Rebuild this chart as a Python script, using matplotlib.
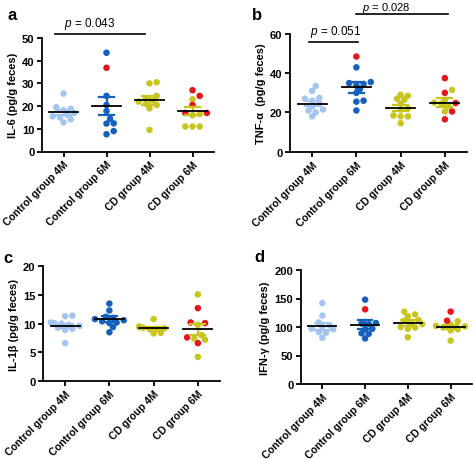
import numpy as np
import matplotlib
matplotlib.use('Agg')
import matplotlib.pyplot as plt

plt.rcParams['font.family'] = ['Liberation Sans', 'DejaVu Sans']
plt.rcParams['mathtext.fontset'] = 'custom'
plt.rcParams['mathtext.it'] = 'Liberation Sans:italic'
plt.rcParams['mathtext.rm'] = 'Liberation Sans'

groups = ['Control group 4M', 'Control group 6M', 'CD group 4M', 'CD group 6M']
group_colors = ['#a3c5ef', '#1560bd', '#c8c61e', '#c8c61e']
red = '#e8141c'

# IL-6
il6_vals = [[25.5, 19.5, 18.8, 18.2, 17.0, 16.2, 15.5, 15.0, 14.2, 12.8],
            [43.5, 24.5, 20.5, 17.8, 14.4, 12.4, 12.3, 9.0, 7.6],
            [30.5, 30.0, 24.5, 23.5, 22.5, 22.0, 21.0, 20.5, 19.0, 9.5],
            [23.0, 16.5, 16.0, 11.0, 11.0, 11.0]]
il6_red = [[], [36.9], [], [27.0, 24.5, 20.5, 17.0, 17.0]]
il6_mean = [17.2, 20.1, 22.6, 17.9]
il6_sem = [1.2, 3.9, 1.9, 1.8]

# TNF-a
tnf_vals = [[33.5, 31.0, 27.5, 27.0, 26.0, 24.5, 23.0, 21.5, 21.0, 20.0, 18.0],
            [43.0, 35.5, 35.0, 34.5, 34.0, 32.0, 30.0, 26.0, 25.5, 21.0],
            [29.0, 28.5, 27.0, 26.5, 24.5, 22.0, 21.5, 18.5, 18.0, 18.0, 14.5],
            [31.5, 26.5, 25.0, 24.5, 23.0, 20.5]]
tnf_red = [[], [48.5], [], [37.5, 30.0, 24.8, 20.5, 16.5]]
tnf_mean = [24.5, 32.9, 22.3, 25.0]
tnf_sem = [1.4, 2.8, 1.6, 2.2]

# IL-1b
il1b_vals = [[11.4, 11.3, 10.2, 10.1, 10.0, 9.8, 9.6, 9.3, 9.1, 8.9, 6.6],
             [13.5, 12.3, 11.2, 11.0, 10.8, 10.6, 10.4, 10.2, 10.1, 9.4, 8.5],
             [10.8, 9.5, 9.4, 9.3, 9.2, 9.1, 9.0, 8.4, 8.3],
             [15.1, 9.8, 8.0, 7.4, 7.2, 4.2]]
il1b_red = [[], [], [], [12.7, 10.2, 10.1, 7.6, 6.6]]
il1b_mean = [9.6, 10.8, 9.25, 9.0]
il1b_sem = [0.4, 0.45, 0.25, 1.0]

# IFN-g
ifn_vals = [[142, 120, 108, 103, 100, 97, 96, 91, 90, 81],
            [148, 107, 106, 105, 97, 96, 89, 88, 80],
            [127, 122, 119, 112, 111, 106, 105, 100, 99, 97, 82],
            [110, 104, 102, 101, 99, 96, 94, 76]]
ifn_red = [[], [131], [], [127, 111]]
ifn_mean = [101.5, 104.0, 107.0, 100.0]
ifn_sem = [6.0, 7.5, 4.5, 4.0]

W, H = 473, 460


def swarm(vals, px_per_unit, dot=5.2, step=3.6, px_per_cat=44.0):
    vals = np.asarray(vals, dtype=float)
    xs = np.zeros(len(vals))
    placed = []
    for i in np.argsort(vals):
        y = vals[i] * px_per_unit
        for k in [0, 1, -1, 2, -2, 3, -3, 4, -4]:
            x = k * step
            if all((x - px) ** 2 + (y - py) ** 2 >= dot ** 2 for px, py in placed):
                break
        placed.append((x, y))
        xs[i] = x / px_per_cat
    return xs


def panel(rect, vals, reds, means, sems, ymax, yticks, ylabel):
    left, right, bottom, top = rect
    ax = fig.add_axes([left / W, 1 - bottom / H, (right - left) / W, (bottom - top) / H])
    ppu = (bottom - top) / ymax
    ppc = (right - left) / 4.0
    for i in range(4):
        allv = list(vals[i]) + list(reds[i])
        cols = [group_colors[i]] * len(vals[i]) + [red] * len(reds[i])
        offs = swarm(allv, ppu, px_per_cat=ppc)
        ax.scatter(i + offs, allv, s=22, c=cols, linewidths=0, zorder=2)
        ax.plot([i, i], [means[i] - sems[i], means[i] + sems[i]], color=group_colors[i], lw=1.6, zorder=3)
        for e in (means[i] - sems[i], means[i] + sems[i]):
            ax.plot([i - 0.17, i + 0.17], [e, e], color=group_colors[i], lw=1.6, zorder=3)
        ax.plot([i - 0.33, i + 0.33], [means[i], means[i]], color='black', lw=1.3, zorder=4)
    ax.set_xlim(-0.5, 3.5)
    ax.set_ylim(0, ymax)
    ax.set_yticks(yticks)
    ax.set_xticks(range(4))
    ax.set_xticklabels(groups, rotation=45, ha='right', rotation_mode='anchor', fontweight='bold', fontsize=7.5)
    for lab in ax.get_yticklabels():
        lab.set_fontweight('bold')
        lab.set_fontsize(8)
    ax.spines['top'].set_visible(False)
    ax.spines['right'].set_visible(False)
    ax.spines['left'].set_linewidth(1.3)
    ax.spines['bottom'].set_linewidth(1.3)
    ax.tick_params(width=1.3, length=3.5, pad=2)
    ax.set_ylabel(ylabel, fontweight='bold', fontsize=8, labelpad=3)
    return ax


fig = plt.figure(figsize=(W / 100, H / 100), dpi=100)

ax_a = panel((42, 214, 152.5, 39), il6_vals, il6_red, il6_mean, il6_sem, 50, [0, 10, 20, 30, 40, 50], 'IL-6 (pg/g feces)')
ax_b = panel((290, 467, 152.7, 35), tnf_vals, tnf_red, tnf_mean, tnf_sem, 60, [0, 20, 40, 60], 'TNF-α  (pg/g feces)')
ax_c = panel((43, 220, 382, 267.3), il1b_vals, il1b_red, il1b_mean, il1b_sem, 20, [0, 5, 10, 15, 20], 'IL-1β (pg/g feces)')
ax_d = panel((301, 472, 385, 271), ifn_vals, ifn_red, ifn_mean, ifn_sem, 200, [0, 50, 100, 150, 200], 'IFN-γ (pg/g feces)')

# significance bars
ax_a.plot([-0.2, 1.9], [51.8, 51.8], color='black', lw=1.2, clip_on=False)
ax_a.text(0.6, 56.5, r'$\it{p}$ = 0.043', ha='center', va='center', fontsize=8.5)
ax_b.plot([-0.08, 1.03], [55.8, 55.8], color='black', lw=1.2, clip_on=False)
ax_b.text(0.53, 61.5, r'$\it{p}$ = 0.051', ha='center', va='center', fontsize=8.5)
ax_b.plot([0.99, 3.06], [70.4, 70.4], color='black', lw=1.2, clip_on=False)
ax_b.text(1.67, 73.6, r'$\it{p}$ = 0.028', ha='center', va='center', fontsize=8)

for lbl, x, y in [('a', 12, 15), ('b', 257, 15), ('c', 8, 259), ('d', 259, 258)]:
    fig.text(x / W, 1 - y / H, lbl, fontsize=12, fontweight='bold', ha='center', va='center')

fig.savefig('out.png', dpi=100)
